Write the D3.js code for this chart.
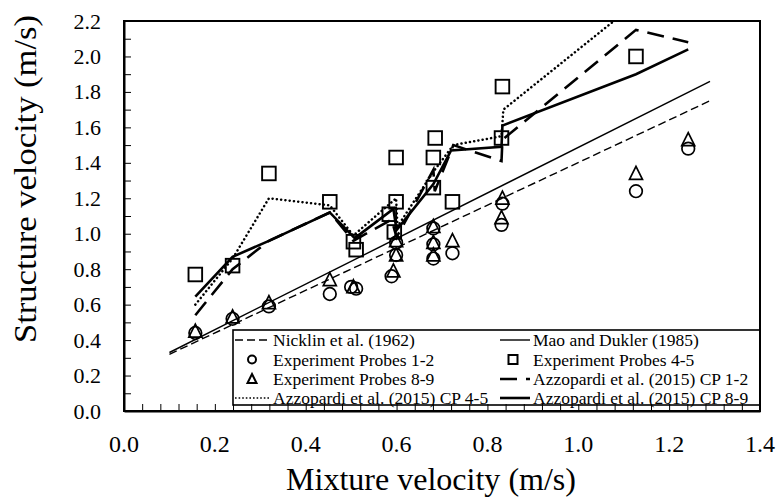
<!DOCTYPE html>
<html>
<head>
<meta charset="utf-8">
<script src="https://cdn.jsdelivr.net/npm/d3@7"></script>
<style>
  html, body { margin: 0; padding: 0; background: #fff; }
</style>
</head>
<body>
<svg id="chart" width="778" height="497"></svg>
<script>
// Correlations (straight lines between end points)
const nicklinX = [0.10, 1.29];
const nicklinY = [0.32, 1.75];
const maoX = [0.10, 1.29];
const maoY = [0.33, 1.86];

// Experimental structure velocities
const probes12X = [0.157, 0.239, 0.319, 0.453, 0.500, 0.511, 0.589, 0.599, 0.599, 0.681, 0.681, 0.681, 0.723, 0.831, 0.833, 1.127, 1.242];
const probes12Y = [0.44, 0.52, 0.59, 0.66, 0.70, 0.69, 0.76, 0.88, 0.95, 0.86, 0.94, 1.03, 0.89, 1.05, 1.17, 1.24, 1.48];

const probes45X = [0.157, 0.239, 0.319, 0.453, 0.505, 0.511, 0.584, 0.595, 0.599, 0.599, 0.681, 0.681, 0.685, 0.723, 0.831, 0.833, 1.127];
const probes45Y = [0.77, 0.82, 1.34, 1.18, 0.955, 0.91, 1.11, 1.01, 1.18, 1.43, 1.26, 1.43, 1.54, 1.18, 1.54, 1.83, 2.00];

const probes89X = [0.157, 0.239, 0.319, 0.453, 0.505, 0.593, 0.599, 0.599, 0.681, 0.681, 0.681, 0.723, 0.831, 0.833, 1.127, 1.242];
const probes89Y = [0.45, 0.53, 0.61, 0.74, 0.70, 0.79, 0.88, 0.96, 0.88, 0.95, 1.04, 0.96, 1.09, 1.20, 1.34, 1.53];

// Model predictions (Azzopardi et al. 2015)
const cp12X = [0.157, 0.239, 0.319, 0.453, 0.505, 0.589, 0.600, 0.681, 0.684, 0.725, 0.831, 0.833, 1.127, 1.242];
const cp12Y = [0.54, 0.80, 0.96, 1.12, 0.96, 1.08, 0.98, 1.36, 1.24, 1.50, 1.41, 1.53, 2.15, 2.08];

const cp45X = [0.157, 0.239, 0.319, 0.453, 0.505, 0.599, 0.602, 0.681, 0.725, 0.831, 0.835, 1.127, 1.242];
const cp45Y = [0.60, 0.86, 1.20, 1.16, 0.99, 1.20, 1.04, 1.35, 1.50, 1.55, 1.70, 2.30, 2.55];

const cp89X = [0.157, 0.239, 0.319, 0.453, 0.508, 0.593, 0.600, 0.681, 0.720, 0.831, 0.833, 1.127, 1.242];
const cp89Y = [0.645, 0.87, 0.96, 1.12, 0.975, 1.14, 1.02, 1.28, 1.47, 1.49, 1.61, 1.90, 2.04];

// Axes
const xTickValues = [0.0, 0.2, 0.4, 0.6, 0.8, 1.0, 1.2, 1.4];
const yTickValues = [0.0, 0.2, 0.4, 0.6, 0.8, 1.0, 1.2, 1.4, 1.6, 1.8, 2.0, 2.2];
const xTitle = "Mixture velocity (m/s)";
const yTitle = "Structure velocity (m/s)";

const legendLabels = [
  "Nicklin et al. (1962)", "Mao and Dukler (1985)",
  "Experiment Probes 1-2", "Experiment Probes 4-5",
  "Experiment Probes 8-9", "Azzopardi et al. (2015) CP 1-2",
  "Azzopardi et al. (2015) CP 4-5", "Azzopardi et al. (2015) CP 8-9"
];

const FONT = '"Liberation Serif"';

const margin = { left: 124, right: 18, top: 21, bottom: 86 };
const W = 778, H = 497;
const x = d3.scaleLinear().domain([0, 1.4]).range([margin.left, W - margin.right]);
const y = d3.scaleLinear().domain([0, 2.2]).range([H - margin.bottom, margin.top]);

const svg = d3.select("#chart");
svg.append("rect").attr("width", W).attr("height", H).attr("fill", "#fff");

svg.append("defs").append("clipPath").attr("id", "plotClip")
  .append("rect")
  .attr("x", x(0)).attr("y", y(2.2))
  .attr("width", x(1.4) - x(0)).attr("height", y(0) - y(2.2));

const zip = (xs, ys) => xs.map((v, i) => [v, ys[i]]);
const line = d3.line().x(d => x(d[0])).y(d => y(d[1]));

const plot = svg.append("g").attr("clip-path", "url(#plotClip)");

// Correlation lines
plot.append("path").attr("d", line(zip(nicklinX, nicklinY)))
  .attr("fill", "none").attr("stroke", "#000").attr("stroke-width", 1.4)
  .attr("stroke-dasharray", "8,4");
plot.append("path").attr("d", line(zip(maoX, maoY)))
  .attr("fill", "none").attr("stroke", "#000").attr("stroke-width", 1.4);

// Model lines
plot.append("path").attr("d", line(zip(cp12X, cp12Y)))
  .attr("fill", "none").attr("stroke", "#000").attr("stroke-width", 2.6)
  .attr("stroke-dasharray", "17,9");
plot.append("path").attr("d", line(zip(cp45X, cp45Y)))
  .attr("fill", "none").attr("stroke", "#000").attr("stroke-width", 2.5)
  .attr("stroke-linecap", "round").attr("stroke-dasharray", "0.1,4.2");
plot.append("path").attr("d", line(zip(cp89X, cp89Y)))
  .attr("fill", "none").attr("stroke", "#000").attr("stroke-width", 2.6)
  .attr("stroke-linejoin", "miter");

// Marker shapes
const circleShape = d3.symbol().type(d3.symbolCircle).size(Math.PI * 6.3 * 6.3);
const triPath = (s) => `M0,${-s * 0.55}L${s / 2},${s * 0.45}L${-s / 2},${s * 0.45}Z`;

plot.append("g").selectAll("path").data(zip(probes12X, probes12Y)).join("path")
  .attr("d", circleShape())
  .attr("transform", d => `translate(${x(d[0])},${y(d[1])})`)
  .attr("fill", "none").attr("stroke", "#000").attr("stroke-width", 1.7);

plot.append("g").selectAll("path").data(zip(probes89X, probes89Y)).join("path")
  .attr("d", triPath(13))
  .attr("transform", d => `translate(${x(d[0])},${y(d[1])})`)
  .attr("fill", "none").attr("stroke", "#000").attr("stroke-width", 1.7);

plot.append("g").selectAll("rect").data(zip(probes45X, probes45Y)).join("rect")
  .attr("x", d => x(d[0]) - 6.8).attr("y", d => y(d[1]) - 6.8)
  .attr("width", 13.6).attr("height", 13.6)
  .attr("fill", "none").attr("stroke", "#000").attr("stroke-width", 1.9);

// Legend
const lg = svg.append("g");
const lgLeft = 233, lgRight = x(1.4), lgTop = 330, lgBottom = 405;
lg.append("rect").attr("x", lgLeft).attr("y", lgTop)
  .attr("width", lgRight - lgLeft).attr("height", lgBottom - lgTop)
  .attr("fill", "#fff").attr("stroke", "#000").attr("stroke-width", 1.6);

const rowY = [340, 359.5, 379, 398];
const colSampleX = [[235, 271], [500, 530]];
const colTextX = [273, 533];

legendLabels.forEach((lab, i) => {
  const col = i % 2, row = Math.floor(i / 2);
  const cy = rowY[row];
  const [s0, s1] = colSampleX[col];
  const g = lg.append("g");
  if (i === 0) {
    g.append("line").attr("x1", s0).attr("x2", s1).attr("y1", cy).attr("y2", cy)
      .attr("stroke", "#000").attr("stroke-width", 1.4).attr("stroke-dasharray", "8,4");
  } else if (i === 1) {
    g.append("line").attr("x1", s0).attr("x2", s1).attr("y1", cy).attr("y2", cy)
      .attr("stroke", "#000").attr("stroke-width", 1.4);
  } else if (i === 2) {
    g.append("circle").attr("cx", 252).attr("cy", cy).attr("r", 4)
      .attr("fill", "none").attr("stroke", "#000").attr("stroke-width", 2);
  } else if (i === 3) {
    g.append("rect").attr("x", 513 - 4.5).attr("y", cy - 4.5).attr("width", 9).attr("height", 9)
      .attr("fill", "none").attr("stroke", "#000").attr("stroke-width", 2);
  } else if (i === 4) {
    g.append("path").attr("d", triPath(9)).attr("transform", `translate(252,${cy})`)
      .attr("fill", "none").attr("stroke", "#000").attr("stroke-width", 2);
  } else if (i === 5) {
    g.append("line").attr("x1", s0).attr("x2", s1).attr("y1", cy).attr("y2", cy)
      .attr("stroke", "#000").attr("stroke-width", 2.6).attr("stroke-dasharray", "17,9");
  } else if (i === 6) {
    g.append("line").attr("x1", s0).attr("x2", s1).attr("y1", cy).attr("y2", cy)
      .attr("stroke", "#000").attr("stroke-width", 1.6).attr("stroke-dasharray", "1.6,2");
  } else if (i === 7) {
    g.append("line").attr("x1", s0).attr("x2", s1).attr("y1", cy).attr("y2", cy)
      .attr("stroke", "#000").attr("stroke-width", 2.6);
  }
  g.append("text").attr("x", colTextX[col]).attr("y", cy + 6)
    .style("font-family", FONT)
    .attr("font-size", 17.5).attr("fill", "#000").text(lab);
});

// Frame and axes
svg.append("rect").attr("x", x(0)).attr("y", y(2.2))
  .attr("width", x(1.4) - x(0)).attr("height", y(0) - y(2.2))
  .attr("fill", "none").attr("stroke", "#000").attr("stroke-width", 2);

const xMinor = d3.range(0, 35).map(i => i * 0.04);
const yMinor = d3.range(0, 22).map(i => i * 0.1);

const xAxis = d3.axisBottom(x).tickValues(xMinor).tickSizeInner(-7).tickSizeOuter(0).tickFormat("");
const gx = svg.append("g").attr("transform", `translate(0,${y(0)})`).call(xAxis);
gx.select(".domain").attr("stroke", "#000").attr("stroke-width", 2);
gx.selectAll(".tick line").attr("stroke", "#000").attr("stroke-width", 1);

const yAxis = d3.axisLeft(y).tickValues(yMinor).tickSizeInner(-7).tickSizeOuter(0).tickFormat("");
const gy = svg.append("g").attr("transform", `translate(${x(0)},0)`).call(yAxis);
gy.select(".domain").attr("stroke", "#000").attr("stroke-width", 2);
gy.selectAll(".tick line").attr("stroke", "#000").attr("stroke-width", 1);

// Tick labels
svg.append("g").selectAll("text").data(xTickValues).join("text")
  .attr("x", d => x(d)).attr("y", 452)
  .attr("text-anchor", "middle").style("font-family", FONT).attr("font-size", 24).attr("fill", "#000")
  .text(d => d3.format(".1f")(d));

svg.append("g").selectAll("text").data(yTickValues).join("text")
  .attr("x", 101).attr("y", d => y(d) + 7.5)
  .attr("text-anchor", "end").style("font-family", FONT).attr("font-size", 22).attr("fill", "#000")
  .text(d => d3.format(".1f")(d));

// Axis titles
svg.append("text").attr("x", 431).attr("y", 490)
  .attr("text-anchor", "middle").style("font-family", FONT).attr("font-size", 31).attr("fill", "#000")
  .attr("textLength", 290).attr("lengthAdjust", "spacingAndGlyphs")
  .text(xTitle);

svg.append("text").attr("transform", "translate(36,179) rotate(-90)")
  .attr("text-anchor", "middle").style("font-family", FONT).attr("font-size", 31).attr("fill", "#000")
  .attr("textLength", 328).attr("lengthAdjust", "spacingAndGlyphs")
  .text(yTitle);
</script>
</body>
</html>
